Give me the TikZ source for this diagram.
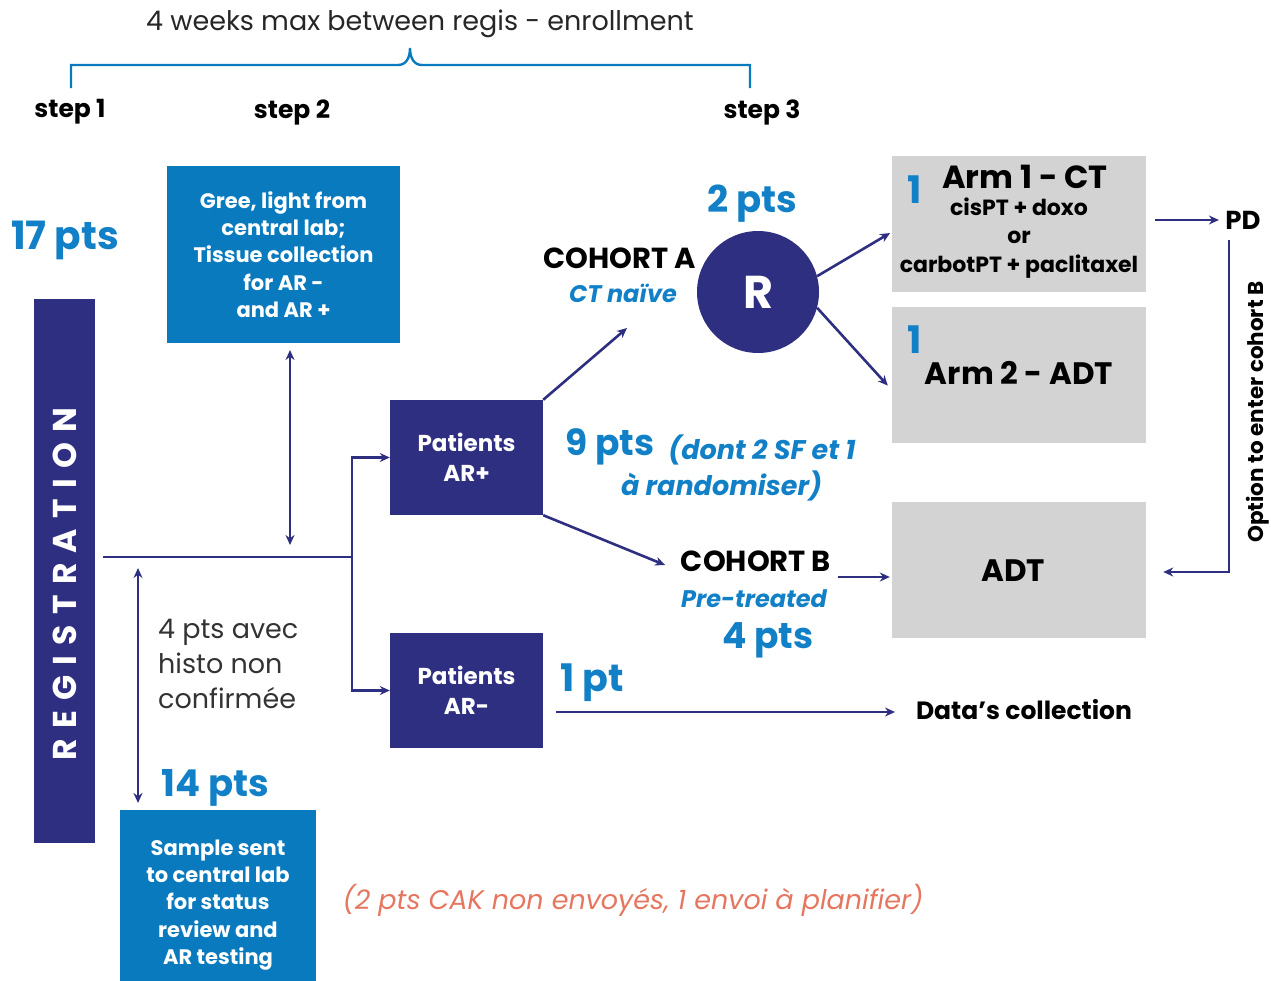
\documentclass[tikz,border=0pt]{standalone}
\usepackage{fontspec}
\setmainfont{Poppins}
\usetikzlibrary{arrows.meta, positioning}
\definecolor{navy}{RGB}{47,47,130}
\definecolor{labblue}{RGB}{10,122,191}
\definecolor{ptblue}{RGB}{18,128,198}
\definecolor{armgray}{RGB}{211,211,211}
\definecolor{salmon}{RGB}{229,118,96}
\newcommand{\fsz}[1]{\fontsize{#1}{1.3\dimexpr#1pt\relax}\selectfont}
\begin{document}
\begin{tikzpicture}[x=1pt,y=-1pt,
  navybox/.style={fill=navy, text=white, inner sep=0pt, align=center, font=\bfseries\fsz{23}},
  bluebox/.style={fill=labblue, text=white, inner sep=0pt, align=center, font=\bfseries\fsz{21}},
  armbox/.style={fill=armgray, inner sep=0pt, minimum width=254pt, minimum height=136pt},
  tag/.style={font=\bfseries\fsz{25}, text=black},
  count/.style={font=\bfseries\fsz{37}, text=ptblue},
  link/.style={draw=navy, line width=2.6pt},
  tip/.style={-{Stealth[length=10pt,width=9pt]}},
  both/.style={{Stealth[length=10pt,width=9pt]}-{Stealth[length=10pt,width=9pt]}}]
  \useasboundingbox (0,0) rectangle (1271,980);

  % time line
  \node[font=\fsz{27}, text=black!85] (weeks) at (420,24) {4 weeks max between regis - enrollment};
  \node[tag] (s1) at (70,112) {step 1};
  \node[tag] (s2) at (292,112) {step 2};
  \node[tag] (s3) at (762,112) {step 3};
  \draw[draw=labblue, line width=2.4pt] (71,88) -- (71,65) -- (398,65)
    .. controls (406,65) and (410,58) .. (410,48)
    .. controls (410,58) and (414,65) .. (422,65) -- (750,65) -- (750,88);

  % registration
  \node[count, font=\bfseries\fsz{39}] (n17) at (65,240) {17 pts};
  \node[navybox, rotate=90, minimum width=544pt, minimum height=61pt,
        font=\bfseries\fsz{33}\addfontfeatures{LetterSpace=31}] (reg) at (64.5,571) {\hspace*{-26pt}REGISTRATION};
  \node[bluebox, minimum width=233pt, minimum height=177pt] (gree) at (283.5,254.5)
    {Gree, light from\\central lab;\\Tissue collection\\for AR -\\and AR +};
  \node[bluebox, minimum width=196pt, minimum height=190pt] (sample) at (218,905)
    {Sample sent\\to central lab\\for status\\review and\\AR testing};
  \node[count] (n14) at (215,788) {14 pts};
  \node[font=\fsz{27}, text=black!80, align=left, anchor=west, inner sep=0pt] (histo) at (158,664)
    {4 pts avec\\histo non\\confirmée};
  \node[font=\itshape\fsz{27}, text=salmon] (cak) at (633,900)
    {(2 pts CAK non envoyés, 1 envoi à planifier)};

  % AR status
  \node[navybox, minimum width=153pt, minimum height=115pt] (arp) at (466.5,457.5) {Patients\\AR+};
  \node[navybox, minimum width=153pt, minimum height=115pt] (arm) at (466.5,690.5) {Patients\\AR-};
  \coordinate (split) at (352,557);
  \coordinate (g1) at (290,350);
  \coordinate (g2) at (290,545);
  \coordinate (h1) at (138,568);
  \coordinate (h2) at (138,803);

  % cohorts
  \node[font=\bfseries\fsz{29}] (coha) at (620,258) {COHORT A};
  \node[font=\bfseries\itshape\fsz{24}, text=ptblue] (naive) at (623,293) {CT naïve};
  \node[count] (n2) at (752,204) {2 pts};
  \node[circle, fill=navy, text=white, minimum size=122pt, font=\bfseries\fsz{46}] (rnd) at (758,292) {R};
  \node[count, font=\bfseries\fsz{36}] (n9) at (610,447) {9 pts};
  \node[font=\bfseries\itshape\fsz{27}, text=ptblue, align=center] (dont) at (762,468)
    {(dont 2 SF et 1\\\hspace*{-3em}à randomiser)};
  \node[font=\bfseries\fsz{29}] (cohb) at (756,561) {COHORT B};
  \node[font=\bfseries\itshape\fsz{24}, text=ptblue] (pretr) at (754,599) {Pre-treated};
  \node[count, font=\bfseries\fsz{36}] (n4) at (768,640) {4 pts};
  \node[count, font=\bfseries\fsz{38}] (n1) at (592,683) {1 pt};
  \coordinate (ca) at (627,328);
  \coordinate (cb) at (665,565);
  \coordinate (bstart) at (838,577);

  % arms
  \node[armbox] (arm1) at (1019,224) {};
  \node[count, font=\bfseries\fsz{38}] (one1) at (915,190) {1};
  \node[font=\bfseries\fsz{32}] (arm1t) at (1025,177) {Arm 1 - CT};
  \node[font=\bfseries\fsz{22}, align=center] (arm1d) at (1019,238)
    {cisPT + doxo\\or\\carbotPT + paclitaxel};
  \node[armbox] (arm2) at (1019,375) {};
  \node[count, font=\bfseries\fsz{38}] (one2) at (915,340) {1};
  \node[font=\bfseries\fsz{31}] (arm2t) at (1019,373) {Arm 2 - ADT};
  \node[armbox] (adt) at (1019,570) {};
  \node[font=\bfseries\fsz{31}] (adtt) at (1013,571) {ADT};
  \node[font=\bfseries\fsz{26}] (pd) at (1243,220) {PD};
  \node[font=\bfseries\fsz{21.5}, rotate=90] (opt) at (1258,412) {Option to enter cohort B};
  \node[font=\bfseries\fsz{25}] (data) at (1024,710) {Data's collection};
  \coordinate (pdb) at (1229,240);
  \coordinate (turn) at (1229,572);

  % connectors
  \draw[link] (reg.south |- split) ++(8,0) -- (split);
  \path[link]
    (split) edge[tip, to path={|- (\tikztotarget)}] (arp.west)
            edge[tip, to path={|- (\tikztotarget)}] (arm.west)
    (g1) edge[both] (g2)
    (h1) edge[both] (h2)
    (arp.north east) edge[tip] (ca)
    (arp.south east) edge[tip] (cb)
    (rnd.15) edge[tip, shorten >=2pt] ([yshift=-8pt]arm1.west)
    (rnd.-15) edge[tip, shorten >=6pt] ([yshift=-15pt]arm2.west)
    (bstart) edge[tip, shorten >=2pt] (bstart -| adt.west)
    ([xshift=9pt]arm1.east |- pd) edge[tip, shorten >=3pt] (pd.west)
    ([xshift=13pt]arm.east |- 0,712) edge[tip] (895,712);
  \draw[link, tip] (pdb) -- (turn) -- ([xshift=17pt]adt.east |- turn);
\end{tikzpicture}
\end{document}
